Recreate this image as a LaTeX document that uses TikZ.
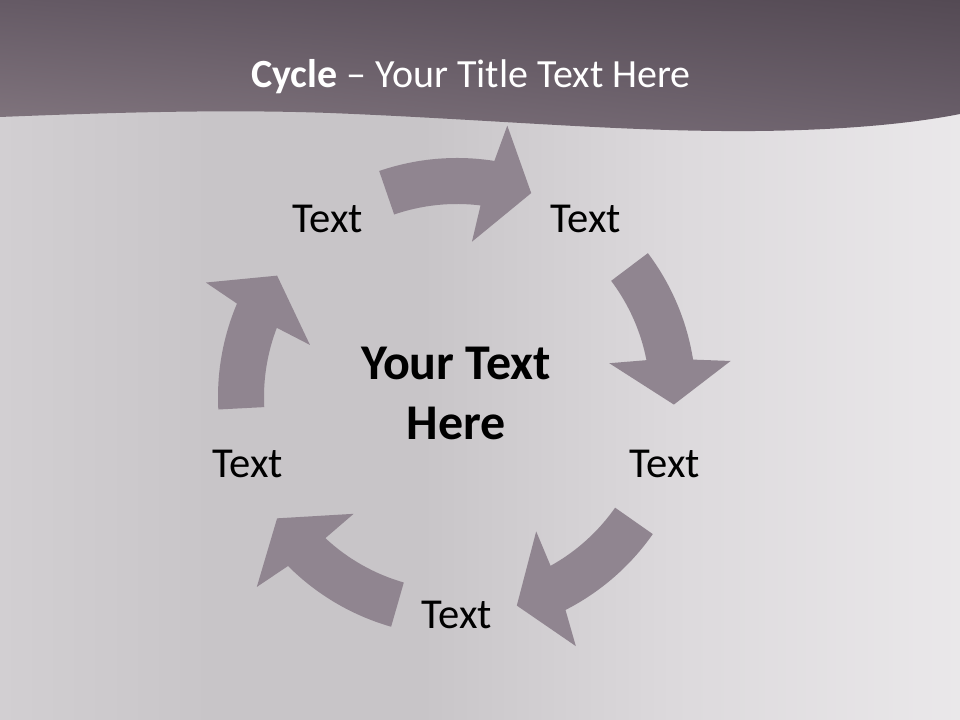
\documentclass[tikz,border=0pt]{standalone}
\usepackage{fontspec}
\setmainfont{Carlito}
\usetikzlibrary{shadings}
\definecolor{arrowfill}{HTML}{908590}
\definecolor{bandTL}{HTML}{655A65}
\definecolor{bandTR}{HTML}{544A54}
\definecolor{bandBL}{HTML}{82767F}
\definecolor{bandBR}{HTML}{6B606B}
\definecolor{bgA}{HTML}{D2CFD2}
\definecolor{bgB}{HTML}{C8C5C8}
\definecolor{bgC}{HTML}{DCD9DC}
\definecolor{bgD}{HTML}{EAE8EA}
\pgfdeclarehorizontalshading{bgshade}{100bp}{color(0bp)=(bgA); color(25bp)=(bgA);
  color(36bp)=(bgB); color(47bp)=(bgB); color(60bp)=(bgC); color(75bp)=(bgD); color(100bp)=(bgD)}
\tikzset{
  label text/.style={font=\fontsize{32}{38}\selectfont, text=black, inner sep=0pt, anchor=base},
  cycle arrow/.style={fill=arrowfill}
}
\begin{document}
\begin{tikzpicture}[x=0.75pt,y=0.75pt]

\useasboundingbox (0,0) rectangle (960,720);
\shade[shading=bgshade] (0,0) rectangle (960,720);

\shade[upper left=bandTL, upper right=bandTR, lower left=bandBL, lower right=bandBR]
  (0,720) -- (960,720) -- (960,606) .. controls (910,596) and (830,588) .. (720,589)
  .. controls (600,590) and (480,601) .. (330,607) .. controls (220,611) and (100,607) .. (0,603) -- cycle;

\node[text=white, font=\fontsize{30}{36}\selectfont, inner sep=0pt, anchor=base] (title) at (471,632)
  {\textbf{Cycle} – Your Title Text Here};

\coordinate (c) at (457,323);

\begin{scope}[shift={(c)}]
\fill[cycle arrow] (109:239) arc[start angle=109, end angle=81, radius=239] -- (79.5:276) -- (70:217)
  -- (84.5:156) -- (83:193) arc[start angle=83, end angle=109, radius=193] -- cycle;
\fill[cycle arrow] (37:239) arc[start angle=37, end angle=9, radius=239] -- (7.5:276) -- (-2:217)
  -- (12.5:156) -- (11:193) arc[start angle=11, end angle=37, radius=193] -- cycle;
\fill[cycle arrow] (-35:239) arc[start angle=-35, end angle=-63, radius=239] -- (-64.5:276) -- (-74:217)
  -- (-59.5:156) -- (-61:193) arc[start angle=-61, end angle=-35, radius=193] -- cycle;
\fill[cycle arrow] (-106:239) arc[start angle=-106, end angle=-135, radius=239] -- (-136.5:276) -- (-146:217)
  -- (-131.5:156) -- (-133:193) arc[start angle=-133, end angle=-106, radius=193] -- cycle;
\fill[cycle arrow] (183:239) arc[start angle=183, end angle=157, radius=239] -- (155.5:276) -- (146:217)
  -- (160.5:156) -- (159:193) arc[start angle=159, end angle=183, radius=193] -- cycle;
\end{scope}

\node[label text] (t1) at (328,487) {Text};
\node[label text] (t2) at (586,487) {Text};
\node[label text] (t3) at (665,242) {Text};
\node[label text] (t4) at (457,91) {Text};
\node[label text] (t5) at (248,242) {Text};

\node[font=\bfseries\fontsize{37.5}{45}\selectfont, align=center, inner sep=0pt, anchor=base] (mid) at (456,280)
  {Your Text\\Here};

\end{tikzpicture}
\end{document}
